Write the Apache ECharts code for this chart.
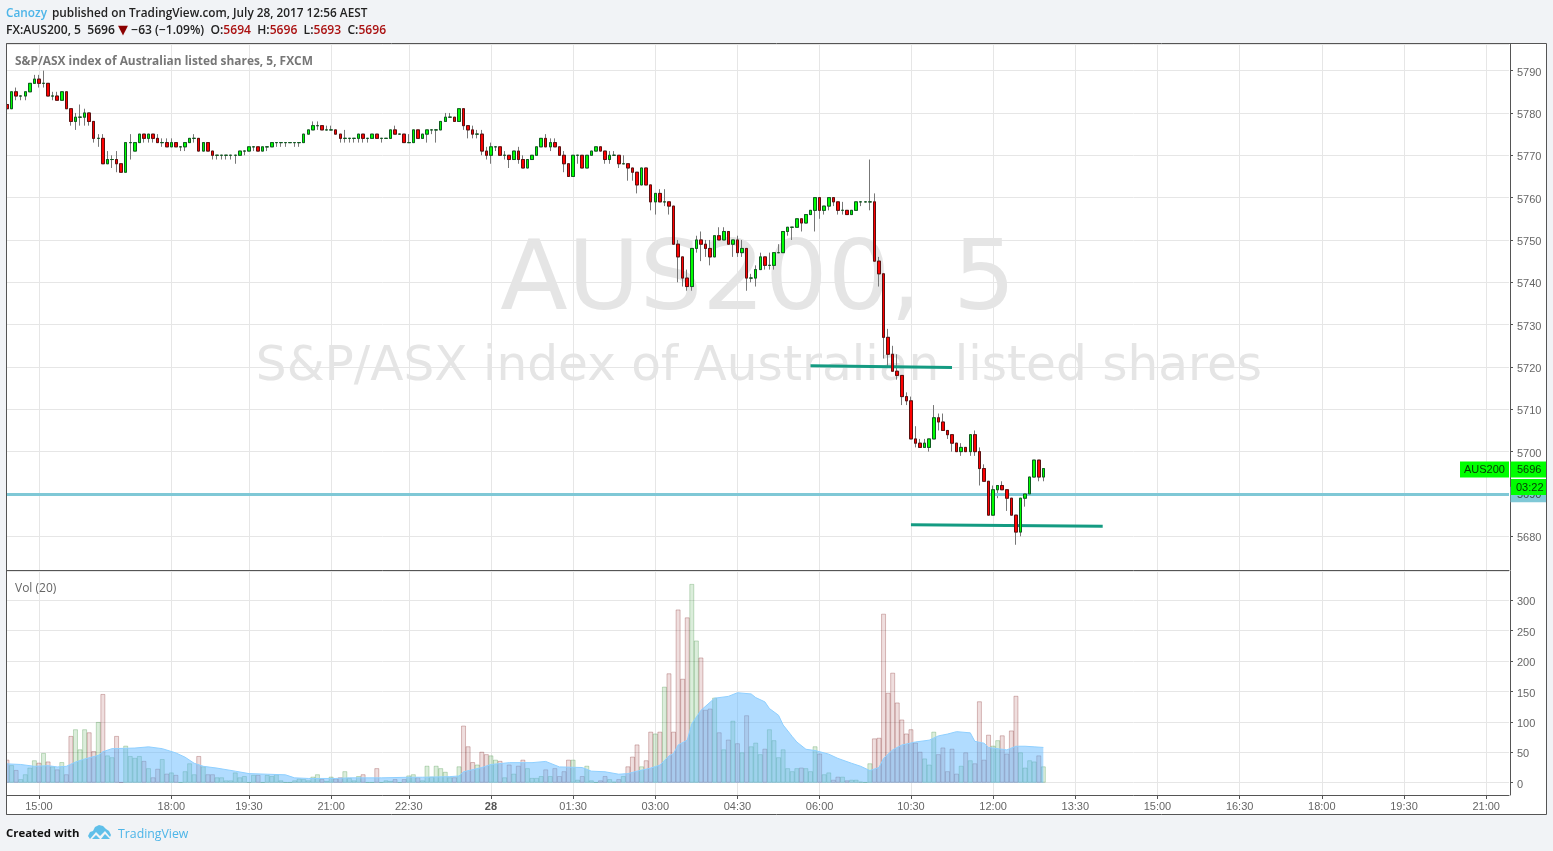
<!DOCTYPE html>
<html>
<head>
<meta charset="utf-8">
<script src="https://cdn.jsdelivr.net/npm/echarts@6/dist/echarts.min.js"></script>
<style>html,body{margin:0;padding:0;background:#f1f3f6}#c{width:1553px;height:851px}</style>
</head>
<body>
<div id="c"></div>
<script>
const opens = [
5782,5781,5785,5784,5784,5785,5787,5788,5787,5787,
5784,5784,5783,5785,5781,5778,5779,5779,5780,5778,
5774,5774,5768,5769,5769,5768,5766,5773,5771,5773,
5775,5774,5775,5774,5773,5773,5772,5773,5772,5772,
5773,5774,5774,5771,5773,5771,5770,5770,5770,5770,
5770,5770,5771,5771,5772,5772,5771,5772,5772,5773,
5773,5773,5773,5773,5773,5773,5775,5776,5777,5777,
5776,5776,5776,5775,5774,5774,5774,5774,5775,5774,
5774,5775,5774,5774,5774,5776,5775,5775,5773,5773,
5776,5774,5775,5776,5776,5776,5778,5779,5779,5778,
5781,5777,5776,5775,5775,5771,5770,5772,5772,5770,
5770,5769,5771,5769,5767,5769,5770,5772,5774,5772,
5773,5772,5770,5768,5765,5770,5770,5767,5770,5771,
5772,5771,5769,5770,5770,5768,5768,5767,5766,5763,
5767,5763,5759,5761,5759,5759,5758,5749,5746,5741,
5739,5748,5750,5749,5748,5746,5751,5750,5752,5749,
5750,5747,5748,5741,5741,5743,5746,5744,5744,5747,
5747,5752,5753,5753,5755,5754,5756,5757,5760,5757,
5758,5760,5759,5757,5757,5756,5757,5759,5759,5759,
5759,5745,5742,5727,5723,5719,5718,5713,5712,5703,
5702,5701,5701,5703,5708,5707,5705,5704,5702,5700,
5701,5700,5704,5700,5696,5693,5685,5691,5692,5691,
5689,5685,5681,5689,5690,5694,5698,5694];
const closes = [
5781,5785,5784,5784,5785,5787,5788,5787,5787,5784,
5784,5783,5785,5781,5778,5779,5779,5780,5778,5774,
5774,5768,5769,5769,5768,5766,5773,5773,5773,5775,
5774,5775,5774,5773,5773,5772,5773,5772,5772,5773,
5774,5774,5771,5773,5771,5770,5770,5770,5770,5770,
5770,5771,5771,5772,5772,5771,5772,5772,5773,5773,
5773,5773,5773,5773,5773,5775,5776,5777,5777,5776,
5776,5776,5775,5774,5774,5774,5774,5775,5774,5774,
5775,5774,5774,5774,5776,5775,5775,5773,5773,5776,
5774,5775,5776,5776,5776,5778,5779,5779,5778,5781,
5777,5776,5775,5775,5771,5770,5772,5772,5770,5770,
5769,5771,5769,5767,5769,5770,5772,5774,5772,5773,
5772,5770,5768,5765,5770,5770,5767,5770,5771,5772,
5771,5769,5770,5770,5768,5768,5767,5766,5763,5767,
5763,5759,5761,5759,5759,5758,5749,5746,5741,5739,
5748,5750,5749,5748,5746,5751,5750,5752,5749,5750,
5747,5748,5741,5741,5743,5746,5744,5744,5747,5747,
5752,5753,5753,5755,5754,5756,5757,5760,5757,5758,
5760,5759,5757,5757,5756,5757,5759,5759,5759,5759,
5745,5742,5727,5723,5719,5718,5713,5712,5703,5702,
5701,5702,5703,5708,5707,5705,5704,5702,5700,5701,
5700,5704,5700,5696,5693,5685,5691,5692,5691,5689,
5685,5681,5689,5690,5694,5698,5694,5696];
const lows = [
5781,5781,5783,5783,5783,5785,5787,5786,5786,5784,
5783,5783,5783,5781,5777,5776,5777,5777,5777,5773,
5772,5768,5768,5767,5766,5766,5766,5769,5771,5773,
5773,5773,5773,5773,5772,5772,5772,5772,5771,5771,
5773,5773,5771,5771,5771,5769,5769,5769,5769,5769,
5768,5770,5770,5771,5771,5771,5771,5771,5772,5772,
5772,5772,5773,5772,5772,5773,5775,5776,5776,5776,
5776,5776,5775,5773,5773,5773,5773,5773,5773,5773,
5774,5774,5773,5774,5774,5775,5775,5773,5773,5773,
5774,5774,5773,5775,5773,5776,5778,5779,5778,5778,
5776,5774,5774,5774,5770,5769,5768,5771,5770,5769,
5767,5769,5768,5767,5767,5769,5770,5772,5772,5771,
5772,5770,5766,5765,5765,5768,5767,5767,5770,5771,
5771,5768,5768,5770,5767,5768,5764,5764,5761,5763,
5763,5757,5756,5759,5758,5756,5749,5740,5739,5738,
5738,5747,5745,5746,5744,5746,5750,5750,5749,5746,
5746,5746,5738,5740,5739,5743,5743,5743,5743,5747,
5747,5751,5750,5753,5752,5754,5756,5752,5755,5756,
5757,5758,5756,5756,5756,5756,5757,5758,5759,5757,
5745,5739,5722,5720,5719,5717,5711,5711,5703,5701,
5701,5701,5700,5703,5705,5705,5703,5700,5700,5699,
5700,5699,5699,5692,5693,5685,5685,5689,5691,5686,
5685,5678,5680,5687,5690,5694,5693,5693];
const highs = [
5782,5785,5786,5784,5785,5787,5789,5789,5790,5787,
5785,5785,5785,5785,5781,5780,5782,5781,5780,5778,
5775,5775,5771,5770,5771,5768,5773,5775,5773,5775,
5775,5775,5775,5775,5774,5774,5774,5773,5772,5773,
5774,5775,5774,5773,5773,5771,5770,5770,5770,5770,
5770,5771,5771,5772,5772,5772,5772,5772,5773,5773,
5773,5773,5773,5773,5773,5775,5776,5778,5778,5777,
5777,5777,5776,5775,5776,5774,5774,5775,5775,5774,
5775,5775,5774,5774,5776,5777,5775,5775,5775,5776,
5776,5775,5776,5776,5776,5778,5780,5780,5779,5781,
5781,5777,5777,5776,5776,5772,5773,5772,5772,5771,
5770,5771,5772,5770,5769,5770,5772,5774,5775,5774,
5774,5772,5771,5768,5770,5770,5770,5770,5771,5772,
5772,5771,5771,5771,5770,5770,5768,5767,5766,5767,
5767,5763,5761,5762,5762,5759,5758,5750,5746,5743,
5748,5751,5752,5750,5750,5751,5753,5753,5752,5750,
5751,5750,5748,5742,5744,5747,5746,5747,5747,5749,
5752,5753,5753,5755,5755,5756,5757,5760,5760,5758,
5760,5760,5759,5759,5757,5757,5759,5759,5759,5769,
5761,5746,5742,5729,5725,5723,5718,5714,5713,5706,
5703,5703,5703,5711,5709,5709,5705,5704,5702,5702,
5701,5704,5705,5701,5697,5693,5692,5692,5693,5691,
5689,5685,5689,5690,5694,5698,5698,5696];
const volumes = [
38,29,21,6,14,25,37,33,49,35,
27,22,34,14,77,88,55,88,83,52,
100,146,45,42,77,1,61,44,41,44,
36,24,9,23,39,15,17,13,1,19,
32,14,44,27,14,14,9,9,4,4,
17,9,11,1,13,13,1,13,11,14,
4,1,1,4,7,6,4,10,14,6,
3,10,7,9,19,8,4,11,14,1,
1,24,1,4,3,6,1,6,12,14,
9,4,28,10,28,24,18,9,9,27,
94,60,34,30,51,47,45,38,36,9,
30,15,28,38,24,8,8,11,22,11,
24,11,19,38,38,5,11,28,4,1,
4,11,6,2,6,11,27,43,63,27,
37,84,81,84,158,180,84,285,171,272,
327,234,206,120,122,140,83,55,71,102,
65,50,111,60,66,47,56,88,70,42,
55,24,19,24,25,24,19,60,48,14,
17,5,10,10,4,5,5,2,1,32,
73,74,278,148,181,132,104,81,88,66,
51,40,30,84,47,58,19,56,15,28,
50,37,32,134,38,79,61,70,78,48,
86,143,50,25,37,35,45,27];
const maIndex = [0,3,6,9,11,13,15,17,20,21,23,28,31,34,37,39,41,43,46,50,53,57,61,63,66,72,75,82,88,91,97,99,100,104,106,110,115,118,121,126,128,131,134,136,138,141,143,145,146,147,149,150,152,155,158,160,163,164,166,167,169,170,172,173,175,177,180,182,185,187,189,191,192,194,196,199,202,204,206,208,211,212,214,215,219,221,223,225,227];
const maValue = [31,30,27,28,26,27,34,39,45,51,56,57,59,56,49,42,32,27,24,19,15,14,13,8,7,7,8,8,9,9,10,11,18,25,30,33,33,35,26,25,19,18,14,15,19,24,29,44,48,62,70,97,119,139,142,148,146,140,133,122,111,95,76,67,55,53,47,40,32,27,20,25,40,54,62,67,70,77,80,84,82,68,65,58,54,60,60,59,58];
const tickIndex = [7,36,53,71,88,106,124,142,160,178,198,216,234,252,270,288,306,324];
const tickLabels = ['15:00','18:00','19:30','21:00','22:30','28','01:30','03:00','04:30','06:00','10:30','12:00','13:30','15:00','16:30','18:00','19:30','21:00'];
const slotCount = 330;
const trendA = [[176,5720.3],[207,5719.9]];
const trendB = [[198,5682.7],[240,5682.4]];
const levelPrice = 5690;
const lastPrice = 5696;
const lastSymbol = 'AUS200';
const countdown = '03:22';

const categories = Array.from({length: slotCount}, (_, i) => String(i));
const isTick = i => tickIndex.indexOf(+i) >= 0;
const labelOf = v => { const k = tickIndex.indexOf(+v); return k < 0 ? '' : tickLabels[k]; };

const ohlc = opens.map((o, i) => [o, closes[i], lows[i], highs[i]]);
const bodies = opens.map((o, i) => [o, closes[i], Math.min(o, closes[i]), Math.max(o, closes[i])]);
const volumeItems = volumes.map((v, i) => {
  const up = closes[i] >= opens[i];
  return {value: v, itemStyle: {
    color: up ? 'rgba(0,128,0,0.14)' : 'rgba(128,0,0,0.13)',
    borderColor: up ? 'rgba(0,110,0,0.22)' : 'rgba(110,0,0,0.25)'}};
});

const GRID = '#e6e6e6', AX = '#555', TXT = '#666', BG = '#f1f3f6';
const yLabel = {margin: 7, showMinLabel: false, showMaxLabel: false, formatter: v => '{a|' + v.toFixed(0) + '}',
  rich: {a: {fontFamily: 'Liberation Sans', fontSize: 11, color: TXT, lineHeight: 15, verticalAlign: 'bottom'}}};

const chart = echarts.init(document.getElementById('c'), null, {renderer: 'canvas'});
const option = {
  animation: false,
  backgroundColor: BG,
  title: [
    {left: 6, top: 5, padding: 0, text: '{a|Canozy} {b|published on TradingView.com, July 28, 2017 12:56 AEST}',
      textStyle: {rich: {
        a: {fontFamily: 'Open Sans', fontSize: 11.8, color: '#4db5e8', fontWeight: 600},
        b: {fontFamily: 'Open Sans', fontSize: 11.8, color: '#222', fontWeight: 600}}}},
    {left: 6, top: 24, padding: 0, text: '{b|FX:AUS200, 5  5696 }{t|▼}{b| −63 (−1.09%)  O:}{r|5694}{b|  H:}{r|5696}{b|  L:}{r|5693}{b|  C:}{r|5696}',
      textStyle: {rich: {
        b: {fontFamily: 'Open Sans', fontSize: 12.1, color: '#222', fontWeight: 600},
        r: {fontFamily: 'Open Sans', fontSize: 12.1, color: '#a11', fontWeight: 600},
        t: {fontFamily: 'DejaVu Sans', fontSize: 13, color: '#8b0000'}}}},
    {left: 15, top: 56, padding: 0, text: 'S&P/ASX index of Australian listed shares, 5, FXCM',
      textStyle: {fontFamily: 'Open Sans', fontSize: 11.9, color: '#777', fontWeight: 700}},
    {left: 15, top: 583, padding: 0, text: 'Vol (20)',
      textStyle: {fontFamily: 'Open Sans', fontSize: 12, color: '#666', fontWeight: 400}},
    {left: 6, top: 828, padding: 0, text: 'Created with',
      textStyle: {fontFamily: 'Open Sans', fontSize: 11.4, color: '#111', fontWeight: 700}},
    {left: 118, top: 828, padding: 0, text: 'TradingView',
      textStyle: {fontFamily: 'Open Sans', fontSize: 12.3, color: '#4db5e8', fontWeight: 500}}
  ],
  grid: [
    {left: 7, top: 44, width: 1502, height: 526, containLabel: false},
    {left: 7, top: 571, width: 1502, height: 224, containLabel: false}
  ],
  xAxis: [0, 1].map(g => ({
    type: 'category', gridIndex: g, data: categories, boundaryGap: false,
    axisLine: {show: true, onZero: false, lineStyle: {color: AX, width: 1}},
    axisTick: {show: g === 1, length: 4, interval: i => isTick(i), lineStyle: {color: AX}},
    axisLabel: {show: g === 1, interval: i => isTick(i), margin: 6,
      formatter: v => labelOf(v) === '28' ? '{d|28}' : labelOf(v),
      fontFamily: 'Liberation Sans', fontSize: 11, color: TXT,
      rich: {d: {fontFamily: 'Liberation Sans', fontSize: 11, fontWeight: 'bold', color: '#555'}}},
    splitLine: {show: true, interval: i => isTick(i), lineStyle: {color: GRID, width: 1}}
  })),
  yAxis: [
    {type: 'value', gridIndex: 0, position: 'right', offset: 1, min: 5672.04, max: 5796.29, minInterval: 10, maxInterval: 10,
      axisLine: {show: true, lineStyle: {color: AX}}, axisTick: {show: true, length: 3, lineStyle: {color: AX}},
      axisLabel: yLabel, splitLine: {show: true, lineStyle: {color: GRID, width: 1}}},
    {type: 'value', gridIndex: 1, position: 'right', offset: 1, min: -20.2, max: 348.2, minInterval: 50, maxInterval: 50,
      axisLine: {show: true, lineStyle: {color: AX}}, axisTick: {show: true, length: 3, lineStyle: {color: AX}},
      axisLabel: yLabel, splitLine: {show: true, lineStyle: {color: GRID, width: 1}}}
  ],
  series: [
    {type: 'candlestick', xAxisIndex: 0, yAxisIndex: 0, data: ohlc, barWidth: 3, z: 3, silent: true,
      itemStyle: {color: '#00ff00', color0: '#ff0000', borderColor: '#777', borderColor0: '#777', borderWidth: 1},
      markLine: {silent: true, symbol: 'none', label: {show: false}, animation: false, z: 4,
        lineStyle: {color: '#149b82', width: 3, type: 'solid'},
        data: [
          [{coord: trendA[0]}, {coord: trendA[1]}],
          [{coord: trendB[0]}, {coord: trendB[1]}],
          [{coord: [0, levelPrice], lineStyle: {color: '#7fc8d6', width: 3, type: 'solid'}}, {coord: [slotCount - 1, levelPrice]}]
        ]}},
    {type: 'candlestick', xAxisIndex: 0, yAxisIndex: 0, data: bodies, barWidth: 3, z: 5, silent: true,
      itemStyle: {color: '#00ff00', color0: '#ff0000', borderColor: '#0d5c1f', borderColor0: '#5c1010', borderWidth: 1}},
    {type: 'bar', xAxisIndex: 1, yAxisIndex: 1, data: volumeItems, barWidth: 5, z: 2, silent: true, itemStyle: {borderWidth: 1}},
    {type: 'line', xAxisIndex: 1, yAxisIndex: 1, z: 3, silent: true, showSymbol: false,
      data: maIndex.map((x, i) => [x, maValue[i]]),
      lineStyle: {color: '#8fd0ff', width: 1},
      areaStyle: {color: 'rgba(90,180,255,0.47)', opacity: 1}}
  ]
};
chart.setOption(option);

const py = v => chart.convertToPixel({yAxisIndex: 0}, v);
const yLast = py(lastPrice), yLevel = py(levelPrice);
const LF = '11px "Liberation Sans"';
chart.setOption({
  graphic: {elements: [
    {type: 'rect', z: -10, silent: true, shape: {x: 6.5, y: 43.5, width: 1540, height: 771}, style: {fill: '#fff', stroke: AX, lineWidth: 1}},
    {type: 'rect', z: 20, silent: true, shape: {x: 0, y: 44, width: 6, height: 770}, style: {fill: BG}},
    {type: 'line', z: 20, silent: true, shape: {x1: 6.5, y1: 43.5, x2: 6.5, y2: 814.5}, style: {stroke: AX, lineWidth: 1}},
    {type: 'text', z: 1, silent: true, x: 758, y: 284, scaleX: 1.026, scaleY: 1,
      style: {text: 'AUS200, 5', font: '96px "DejaVu Sans"', fill: '#e5e5e5', align: 'center', verticalAlign: 'middle'}},
    {type: 'text', z: 1, silent: true, x: 759, y: 368, scaleX: 1.012, scaleY: 1,
      style: {text: 'S&P/ASX index of Australian listed shares', font: '48px "DejaVu Sans"', fill: '#e5e5e5', align: 'center', verticalAlign: 'middle'}},
    {type: 'polygon', z: 10, silent: true, shape: {points: [[88,836],[90,832],[93,831],[95,827],[99,825],[103,826],[106,829],[109,831],[111,835],[110,837],[105,831],[100,836],[96,832],[90,839]]}, style: {fill: '#5fbfe9'}},
    {type: 'polygon', z: 10, silent: true, shape: {points: [[92,839],[96,835],[100,839]]}, style: {fill: '#5fbfe9'}},
    {type: 'polygon', z: 10, silent: true, shape: {points: [[101,839],[105,834],[110,839]]}, style: {fill: '#5fbfe9'}},
    // level tag on the price scale
    {type: 'rect', z: 10, silent: true, shape: {x: 1510.5, y: yLevel - 7.3, width: 35.5, height: 15.7}, style: {fill: '#7fc8d6'}},
    {type: 'text', z: 11, silent: true, x: 1517, y: yLevel + 1, style: {text: String(levelPrice), font: LF, fill: '#444', verticalAlign: 'middle'}},
    // last price tags
    {type: 'rect', z: 12, silent: true, shape: {x: 1460, y: yLast - 7, width: 49, height: 16}, style: {fill: '#00ff00'}},
    {type: 'text', z: 13, silent: true, x: 1464, y: yLast + 1.5, style: {text: lastSymbol, font: LF, fill: '#063806', verticalAlign: 'middle'}},
    {type: 'rect', z: 12, silent: true, shape: {x: 1510.5, y: yLast - 7, width: 35.5, height: 16}, style: {fill: '#00ff00'}},
    {type: 'text', z: 13, silent: true, x: 1517, y: yLast + 1.5, style: {text: String(lastPrice), font: LF, fill: '#063806', verticalAlign: 'middle'}},
    {type: 'rect', z: 12, silent: true, shape: {x: 1511, y: yLast + 10.5, width: 35, height: 16}, style: {fill: '#00ff00'}},
    {type: 'text', z: 13, silent: true, x: 1516, y: yLast + 19, style: {text: countdown, font: LF, fill: '#063806', verticalAlign: 'middle'}}
  ]}
});
</script>
</body>
</html>
